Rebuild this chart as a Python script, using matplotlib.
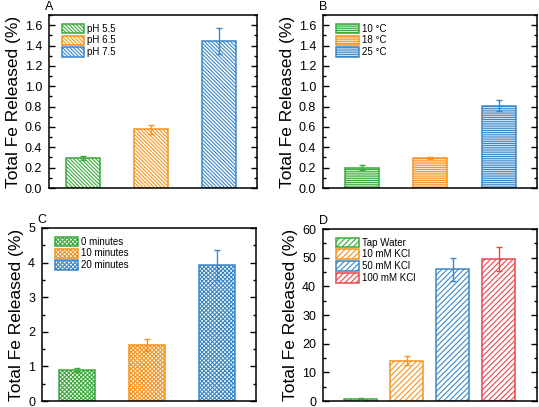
import matplotlib
matplotlib.use("Agg")
import matplotlib.pyplot as plt
from matplotlib.ticker import MultipleLocator
import numpy as np

plt.rcParams['font.family'] = ['Liberation Sans', 'DejaVu Sans']
plt.rcParams['hatch.linewidth'] = 0.8

GREEN = '#3aaa3a'
ORANGE = '#f7931e'
BLUE = '#3a87c8'
RED = '#e8474b'

# Panel A
a_labels = ['pH 5.5', 'pH 6.5', 'pH 7.5']
a_values = [0.295, 0.575, 1.445]
a_errors = [0.022, 0.045, 0.125]
# Panel B
b_labels = ['10 °C', '18 °C', '25 °C']
b_values = [0.20, 0.295, 0.81]
b_errors = [0.022, 0.012, 0.05]
# Panel C
c_labels = ['0 minutes', '10 minutes', '20 minutes']
c_values = [0.90, 1.62, 3.92]
c_errors = [0.06, 0.18, 0.43]
# Panel D
d_labels = ['Tap Water', '10 mM KCl', '50 mM KCl', '100 mM KCl']
d_values = [0.8, 14.1, 45.9, 49.5]
d_errors = [0.2, 1.6, 3.9, 4.3]

fig = plt.figure(figsize=(5.39, 4.07), dpi=100)
W, H = 539, 407

def make_ax(l, r, t, b):
    return fig.add_axes([l / W, 1 - b / H, (r - l) / W, (b - t) / H])

def panel(ax, letter, labels, values, errors, colors, hatch, width, xlim, ylim,
          major, minor, fmt):
    x = np.arange(1, len(values) + 1)
    for xi, v, e, c, lab in zip(x, values, errors, colors, labels):
        ax.bar(xi, v, width=width, facecolor='white', edgecolor=c, hatch=hatch,
               linewidth=1.1, label=lab, zorder=2)
        ax.errorbar(xi, v, yerr=e, color=c, capsize=2, elinewidth=1.0,
                    capthick=1.0, fmt='none', zorder=3)
    ax.set_xlim(*xlim)
    ax.set_ylim(*ylim)
    ax.set_xticks([])
    ax.yaxis.set_major_locator(MultipleLocator(major))
    ax.yaxis.set_minor_locator(MultipleLocator(minor))
    ax.yaxis.set_major_formatter(fmt)
    ax.tick_params(axis='y', which='both', direction='in', right=True, left=True,
                   labelsize=9, pad=5)
    ax.tick_params(axis='y', which='major', length=4, width=1)
    ax.tick_params(axis='y', which='minor', length=2, width=1)
    for s in ax.spines.values():
        s.set_linewidth(1.1)
    ax.set_ylabel('Total Fe Released (%)', fontsize=12.5, labelpad=3)
    ax.text(-0.02, 1.012, letter, transform=ax.transAxes, fontsize=9,
            ha='left', va='bottom')
    ax.legend(loc='upper left', bbox_to_anchor=(0.03, 0.99), frameon=False,
              fontsize=7, handlelength=2.3, handleheight=1.1,
              labelspacing=0.2, handletextpad=0.3, borderpad=0.2)

cols3 = [GREEN, ORANGE, BLUE]
cols4 = [GREEN, ORANGE, BLUE, RED]

axA = make_ax(49, 257, 15, 188)
panel(axA, 'A', a_labels, a_values, a_errors, cols3, '\\' * 9, 0.51,
      (0.5, 3.56), (0, 1.7), 0.2, 0.1, '{x:.1f}')

axB = make_ax(323, 537, 15, 188)
panel(axB, 'B', b_labels, b_values, b_errors, cols3, '-' * 9, 0.5,
      (0.435, 3.56), (0, 1.7), 0.2, 0.1, '{x:.1f}')

axC = make_ax(42, 256, 228, 401)
panel(axC, 'C', c_labels, c_values, c_errors, cols3, 'x' * 8, 0.51,
      (0.5, 3.56), (0, 5), 1, 0.5, '{x:.0f}')

axD = make_ax(323, 537, 229, 401)
panel(axD, 'D', d_labels, d_values, d_errors, cols4, '/' * 6, 0.72,
      (0.18, 4.83), (0, 60), 10, 5, '{x:.0f}')

fig.savefig('out.png', dpi=100)
